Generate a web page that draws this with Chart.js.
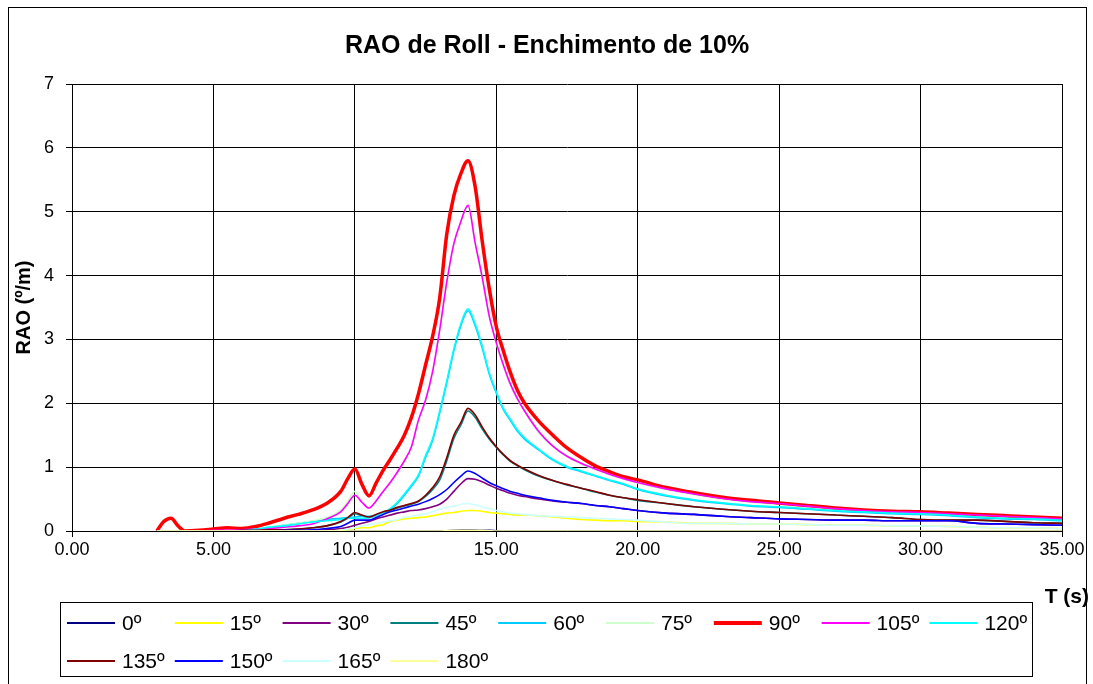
<!DOCTYPE html>
<html>
<head>
<meta charset="utf-8">
<title>RAO de Roll</title>
<script src="https://cdn.jsdelivr.net/npm/chart.js@4.4.1/dist/chart.umd.min.js"></script>
<style>
    body { margin: 0; background: #fff; }
    canvas { display: block; }
</style>
</head>
<body>
<canvas id="raoChart" width="1093" height="684"></canvas>
<script>
const chartTitle = 'RAO de Roll - Enchimento de 10%';
const headings = ['0º', '15º', '30º', '45º', '60º', '75º', '90º', '105º', '120º', '135º', '150º', '165º', '180º'];
const xTicks = [0, 5, 10, 15, 20, 25, 30, 35];
const yTicks = [0, 1, 2, 3, 4, 5, 6, 7];

// periodo T (s)
const periods = [3.0, 3.25, 3.5, 3.75, 4.0, 4.5, 5.0, 5.5, 6.0, 6.5,
    7.0, 7.5, 8.0, 8.5, 9.0, 9.5, 9.75, 10.0, 10.25, 10.5,
    10.75, 11.0, 11.25, 11.5, 11.75, 12.0, 12.25, 12.5, 12.75, 13.0,
    13.25, 13.5, 13.75, 14.0, 14.25, 14.5, 14.75, 15.0, 15.25, 15.5,
    15.75, 16.0, 16.5, 17.0, 17.5, 18.0, 18.5, 19.0, 19.5, 20.0,
    21, 22, 23, 24, 25, 26, 27, 28, 29, 30,
    31, 32, 33, 34, 35];

const rao0 = [0, 0, 0, 0, 0, 0, 0, 0, 0, 0,
    0, 0, 0, 0, 0, 0, 0, 0, 0, 0,
    0, 0, 0, 0, 0, 0, 0, 0, 0, 0,
    0.005, 0.01, 0.015, 0.015, 0.015, 0.01, 0.01, 0.005, 0, 0,
    0, 0, 0, 0, 0, 0, 0, 0, 0, 0,
    0, 0, 0, 0, 0, 0, 0, 0, 0, 0,
    0, 0, 0, 0, 0];
const rao15 = [0, 0, 0, 0, 0, 0, 0, 0, 0, 0,
    0, 0, 0, 0, 0, 0.01, 0.02, 0.04, 0.05, 0.05,
    0.08, 0.1, 0.15, 0.17, 0.19, 0.2, 0.21, 0.22, 0.24, 0.26,
    0.28, 0.29, 0.31, 0.32, 0.32, 0.31, 0.29, 0.28, 0.27, 0.26,
    0.25, 0.25, 0.24, 0.22, 0.2, 0.18, 0.17, 0.16, 0.16, 0.15,
    0.14, 0.12, 0.12, 0.11, 0.11, 0.1, 0.09, 0.09, 0.08, 0.08,
    0.07, 0.06, 0.05, 0.05, 0.04];
const rao30 = [0, 0, 0, 0, 0, 0, 0, 0, 0, 0,
    0, 0, 0.01, 0.01, 0.02, 0.04, 0.06, 0.09, 0.12, 0.15,
    0.19, 0.22, 0.25, 0.28, 0.3, 0.32, 0.33, 0.35, 0.38, 0.42,
    0.5, 0.62, 0.74, 0.82, 0.81, 0.77, 0.72, 0.67, 0.63, 0.59,
    0.56, 0.54, 0.5, 0.47, 0.45, 0.43, 0.4, 0.38, 0.35, 0.32,
    0.28, 0.26, 0.23, 0.21, 0.19, 0.18, 0.17, 0.17, 0.16, 0.16,
    0.16, 0.12, 0.11, 0.1, 0.09];
const rao45 = [0, 0, 0, 0, 0, 0, 0, 0, 0.01, 0.01,
    0.02, 0.02, 0.03, 0.05, 0.08, 0.14, 0.2, 0.27, 0.24, 0.21,
    0.25, 0.29, 0.32, 0.36, 0.39, 0.42, 0.46, 0.54, 0.65, 0.8,
    1.1, 1.45, 1.66, 1.88, 1.78, 1.6, 1.44, 1.31, 1.19, 1.09,
    1.02, 0.96, 0.86, 0.79, 0.72, 0.67, 0.61, 0.56, 0.52, 0.48,
    0.43, 0.38, 0.34, 0.31, 0.29, 0.27, 0.25, 0.23, 0.21, 0.18,
    0.17, 0.17, 0.15, 0.13, 0.12];
const rao60 = [0, 0, 0, 0, 0, 0, 0, 0, 0.01, 0.03,
    0.06, 0.09, 0.12, 0.15, 0.18, 0.2, 0.21, 0.22, 0.23, 0.23,
    0.25, 0.29, 0.34, 0.43, 0.56, 0.7, 0.86, 1.15, 1.42, 1.85,
    2.32, 2.82, 3.22, 3.45, 3.22, 2.87, 2.46, 2.16, 1.9, 1.73,
    1.56, 1.44, 1.27, 1.11, 1.0, 0.93, 0.86, 0.79, 0.73, 0.65,
    0.55, 0.48, 0.43, 0.39, 0.37, 0.34, 0.31, 0.29, 0.27, 0.26,
    0.24, 0.21, 0.19, 0.18, 0.16];
const rao75 = [0, 0, 0, 0, 0, 0, 0.01, 0.01, 0.02, 0.04,
    0.06, 0.09, 0.12, 0.16, 0.21, 0.33, 0.47, 0.62, 0.47, 0.36,
    0.46, 0.6, 0.75, 0.91, 1.09, 1.31, 1.72, 2.03, 2.48, 3.13,
    3.88, 4.48, 4.83, 5.08, 4.5, 3.96, 3.35, 2.93, 2.58, 2.28,
    2.05, 1.87, 1.54, 1.32, 1.16, 1.05, 0.96, 0.88, 0.81, 0.75,
    0.65, 0.57, 0.5, 0.45, 0.42, 0.38, 0.34, 0.31, 0.29, 0.28,
    0.26, 0.24, 0.22, 0.2, 0.18];
const rao90 = [0, 0.15, 0.2, 0.08, 0, 0.01, 0.03, 0.05, 0.04, 0.07,
    0.13, 0.2, 0.26, 0.33, 0.43, 0.62, 0.82, 0.97, 0.73, 0.55,
    0.75, 0.95, 1.12, 1.3, 1.5, 1.78, 2.15, 2.6, 3.05, 3.65,
    4.65, 5.25, 5.6, 5.8, 5.4, 4.55, 3.8, 3.2, 2.82, 2.48,
    2.2, 2.0, 1.72, 1.5, 1.3, 1.15, 1.02, 0.93, 0.85, 0.8,
    0.68, 0.6, 0.53, 0.48, 0.44, 0.4, 0.36, 0.33, 0.31, 0.3,
    0.28, 0.26, 0.24, 0.22, 0.2];
const rao105 = [0, 0, 0, 0, 0, 0, 0.01, 0.01, 0.02, 0.03,
    0.04, 0.06, 0.08, 0.11, 0.19, 0.3, 0.43, 0.56, 0.45, 0.36,
    0.47, 0.62, 0.76, 0.92, 1.1, 1.32, 1.74, 2.05, 2.5, 3.15,
    3.9, 4.5, 4.85, 5.1, 4.52, 3.98, 3.37, 2.95, 2.6, 2.3,
    2.07, 1.88, 1.56, 1.33, 1.17, 1.06, 0.97, 0.89, 0.82, 0.76,
    0.66, 0.58, 0.51, 0.46, 0.43, 0.39, 0.35, 0.32, 0.3, 0.29,
    0.27, 0.25, 0.23, 0.21, 0.19];
const rao120 = [0, 0, 0, 0, 0, 0, 0, 0, 0, 0.03,
    0.06, 0.08, 0.11, 0.14, 0.16, 0.18, 0.2, 0.2, 0.2, 0.21,
    0.24, 0.29, 0.35, 0.45, 0.58, 0.72, 0.88, 1.18, 1.45, 1.88,
    2.35, 2.85, 3.25, 3.48, 3.25, 2.9, 2.48, 2.18, 1.92, 1.75,
    1.58, 1.46, 1.28, 1.12, 1.01, 0.94, 0.87, 0.8, 0.74, 0.66,
    0.56, 0.49, 0.44, 0.4, 0.38, 0.35, 0.32, 0.3, 0.28, 0.27,
    0.25, 0.22, 0.2, 0.19, 0.17];
const rao135 = [0, 0, 0, 0, 0, 0, 0, 0, 0.01, 0.01,
    0.02, 0.02, 0.03, 0.05, 0.08, 0.15, 0.21, 0.29, 0.25, 0.22,
    0.26, 0.3, 0.33, 0.37, 0.4, 0.43, 0.47, 0.56, 0.68, 0.85,
    1.15, 1.5, 1.7, 1.92, 1.82, 1.63, 1.46, 1.32, 1.2, 1.1,
    1.03, 0.97, 0.87, 0.79, 0.73, 0.67, 0.62, 0.56, 0.52, 0.49,
    0.43, 0.38, 0.34, 0.31, 0.29, 0.27, 0.25, 0.23, 0.21, 0.18,
    0.17, 0.17, 0.15, 0.13, 0.12];
const rao150 = [0, 0, 0, 0, 0, 0, 0, 0, 0, 0,
    0, 0.01, 0.01, 0.02, 0.04, 0.07, 0.12, 0.17, 0.17, 0.17,
    0.21, 0.26, 0.3, 0.33, 0.36, 0.39, 0.42, 0.46, 0.51, 0.57,
    0.65, 0.76, 0.86, 0.94, 0.9, 0.83, 0.76, 0.71, 0.66, 0.62,
    0.59, 0.56, 0.52, 0.48, 0.45, 0.43, 0.4, 0.38, 0.35, 0.32,
    0.28, 0.26, 0.23, 0.21, 0.19, 0.18, 0.17, 0.17, 0.16, 0.16,
    0.16, 0.12, 0.11, 0.1, 0.09];
const rao165 = [0, 0, 0, 0, 0, 0, 0, 0, 0, 0,
    0, 0, 0, 0, 0, 0.01, 0.03, 0.05, 0.08, 0.1,
    0.12, 0.14, 0.16, 0.18, 0.21, 0.23, 0.25, 0.27, 0.3, 0.34,
    0.37, 0.39, 0.42, 0.43, 0.41, 0.38, 0.35, 0.32, 0.3, 0.28,
    0.27, 0.26, 0.24, 0.23, 0.22, 0.21, 0.2, 0.19, 0.18, 0.17,
    0.14, 0.12, 0.12, 0.11, 0.11, 0.1, 0.09, 0.09, 0.08, 0.08,
    0.07, 0.06, 0.05, 0.05, 0.04];
const rao180 = [0, 0, 0, 0, 0, 0, 0, 0, 0, 0,
    0, 0, 0, 0, 0, 0, 0, 0, 0, 0,
    0, 0, 0, 0, 0, 0, 0, 0, 0, 0,
    0.005, 0.01, 0.01, 0.01, 0.01, 0.01, 0.005, 0, 0, 0,
    0, 0, 0, 0, 0, 0, 0, 0, 0, 0,
    0, 0, 0, 0, 0, 0, 0, 0, 0, 0,
    0, 0, 0, 0, 0];

const seriesValues = [rao0, rao15, rao30, rao45, rao60, rao75, rao90, rao105, rao120, rao135, rao150, rao165, rao180];
const seriesColors = ['#000080', '#FFFF00', '#800080', '#008080', '#00CCFF', '#CCFFCC', '#FF0000',
    '#FF00FF', '#00FFFF', '#800000', '#0000FF', '#CCFFFF', '#FFFF99'];

const FONT = '"Liberation Sans", Arial, sans-serif';

document.addEventListener("DOMContentLoaded", () => {
    renderRaoChart();
});

// borda externa, titulo, rotulo "T (s)" e legenda no estilo do Excel
const frameAndLegend = {
    id: 'frameAndLegend',
    afterDraw(chart) {
        const ctx = chart.ctx;
        ctx.save();
        ctx.strokeStyle = '#000';
        ctx.lineWidth = 1;
        ctx.strokeRect(8.5, 7.5, 1078, 700);

        ctx.fillStyle = '#000';
        ctx.textBaseline = 'middle';
        ctx.textAlign = 'center';
        ctx.font = `bold 25px ${FONT}`;
        ctx.fillText(chartTitle, 547, 46);

        ctx.textAlign = 'right';
        ctx.font = `bold 21px ${FONT}`;
        ctx.fillText('T (s)', 1089, 597);

        ctx.strokeRect(60.5, 602.5, 972, 74);
        ctx.textAlign = 'left';
        ctx.font = `21px ${FONT}`;
        chart.data.datasets.forEach((ds, i) => {
            const col = i % 9;
            const row = Math.floor(i / 9);
            const x0 = 67 + col * 107.8;
            const y = 623 + row * 38;
            ctx.strokeStyle = ds.borderColor;
            ctx.lineWidth = ds.borderWidth + 0.4;
            ctx.beginPath();
            ctx.moveTo(x0, y);
            ctx.lineTo(x0 + 48, y);
            ctx.stroke();
            ctx.fillStyle = '#000';
            ctx.fillText(ds.label, x0 + 55, y + 1);
        });
        ctx.restore();
    }
};

function renderRaoChart() {
    const ctx = document.getElementById('raoChart');

    const datasets = headings.map((name, i) => ({
        label: name,
        data: periods.map((t, k) => ({ x: t, y: seriesValues[i][k] })),
        borderColor: seriesColors[i],
        backgroundColor: seriesColors[i],
        borderWidth: name === '90º' ? 3.5 : 1.6,
        pointRadius: 0,
        fill: false,
        cubicInterpolationMode: 'monotone',
        order: -i // ultima serie por cima, como no Excel
    }));

    new Chart(ctx, {
        type: 'line',
        data: { datasets: datasets },
        options: {
            responsive: false,
            animation: false,
            layout: { padding: { top: 84, right: 31, left: 0, bottom: 0 } },
            scales: {
                x: {
                    type: 'linear',
                    min: xTicks[0],
                    max: xTicks[xTicks.length - 1],
                    afterFit: s => { s.height = 153; },
                    afterBuildTicks: s => { s.ticks = xTicks.map(v => ({ value: v })); },
                    ticks: {
                        color: '#000',
                        font: { family: FONT, size: 18 },
                        padding: 2,
                        maxRotation: 0,
                        autoSkip: false,
                        callback: v => Number(v).toFixed(2)
                    },
                    grid: { color: '#000', lineWidth: 1, tickLength: 6 },
                    border: { color: '#000', width: 1 }
                },
                y: {
                    min: yTicks[0],
                    max: yTicks[yTicks.length - 1],
                    afterFit: s => { s.width = 72; },
                    afterBuildTicks: s => { s.ticks = yTicks.map(v => ({ value: v })); },
                    ticks: {
                        color: '#000',
                        font: { family: FONT, size: 18 },
                        padding: 12
                    },
                    grid: { color: '#000', lineWidth: 1, tickLength: 6 },
                    border: { color: '#000', width: 1 },
                    title: {
                        display: true,
                        text: 'RAO (º/m)',
                        color: '#000',
                        font: { family: FONT, size: 20, weight: 'bold' },
                        padding: { top: 12, bottom: 0 }
                    }
                }
            },
            plugins: {
                legend: { display: false },
                title: { display: false },
                tooltip: { enabled: false }
            }
        },
        plugins: [frameAndLegend]
    });
}
</script>
</body>
</html>
